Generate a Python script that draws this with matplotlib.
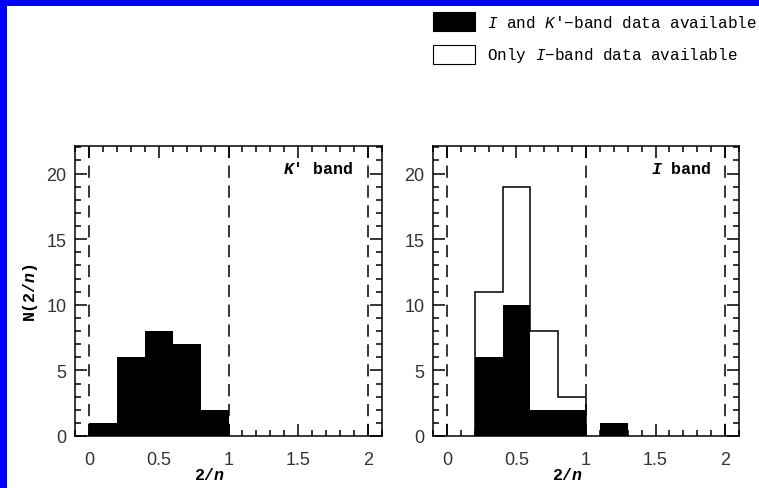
import matplotlib
matplotlib.use("Agg")
import matplotlib.pyplot as plt
from matplotlib.patches import Rectangle
from matplotlib.ticker import MultipleLocator, FuncFormatter

# Histogram data (bin width 0.2 in 2/n)
bin_width = 0.2
k_left = [0.0, 0.2, 0.4, 0.6, 0.8]
k_counts = [1, 6, 8, 7, 2]

i_both_left = [0.2, 0.4, 0.6, 0.8, 1.1]
i_both_counts = [6, 10, 2, 2, 1]

i_all_edges = [0.2, 0.4, 0.6, 0.8, 1.0]
i_all_counts = [11, 19, 8, 3]

ref_lines = [0, 1, 2]
xticks = [0, 0.5, 1, 1.5, 2]
yticks = [0, 5, 10, 15, 20]

# Mono slab-style font for labels; \mathsf is mapped to bold italic for bold labels
plt.rcParams["mathtext.fontset"] = "custom"
plt.rcParams["mathtext.rm"] = "Liberation Mono"
plt.rcParams["mathtext.it"] = "Liberation Mono:italic"
plt.rcParams["mathtext.bf"] = "Liberation Mono:bold"
plt.rcParams["mathtext.sf"] = "Liberation Mono:italic:bold"

W, H = 759, 489
fig = plt.figure(figsize=(W / 100, H / 100), dpi=100)
fig.patch.set_facecolor("#0000ff")
fig.patches.append(Rectangle((7 / W, 0), 1 - 7 / W, 482 / H, transform=fig.transFigure,
                             facecolor="white", edgecolor="none", zorder=-10))

mono = "Liberation Mono"
sans = "Liberation Sans"
lw = 1.1


def style_axes(ax):
    ax.set_xlim(-0.1, 2.1)
    ax.set_ylim(0, 22.1)
    ax.xaxis.set_major_locator(MultipleLocator(0.5))
    ax.xaxis.set_minor_locator(MultipleLocator(0.1))
    ax.yaxis.set_major_locator(MultipleLocator(5))
    ax.yaxis.set_minor_locator(MultipleLocator(1))
    ax.xaxis.set_major_formatter(FuncFormatter(lambda v, p: f"{v:g}"))
    ax.tick_params(which="both", direction="in", top=True, right=True, width=lw, color="black")
    ax.tick_params(which="major", length=8.6)
    ax.tick_params(which="minor", length=4.3)
    ax.tick_params(axis="x", which="major", pad=11, labelsize=13, labelcolor="#333333")
    ax.tick_params(axis="y", which="major", pad=6, labelsize=13, labelcolor="#333333")
    for s in ax.spines.values():
        s.set_linewidth(lw)
    for x in ref_lines:
        ax.axvline(x, color="black", lw=lw, ls=(0, (8, 5)), zorder=1)
    ax.set_xlabel(r"2/$\mathsf{n}$", fontfamily=mono, fontweight="bold", fontsize=12)
    ax.xaxis.set_label_coords(0.44, -0.105)


ax1 = fig.add_axes([75 / W, 52 / H, 307 / W, 290 / H])
ax2 = fig.add_axes([433 / W, 52 / H, 306 / W, 290 / H])

for ax in (ax1, ax2):
    ax.set_facecolor("white")
    style_axes(ax)
    ax.set_xticks(xticks)
    ax.set_yticks(yticks)
    for lab in ax.get_xticklabels() + ax.get_yticklabels():
        lab.set_fontfamily(sans)

# K' band panel
ax1.bar(k_left, k_counts, width=bin_width, align="edge", color="black", zorder=2)
ax1.set_ylabel(r"N(2/$\mathsf{n}$)", fontfamily=mono, fontweight="bold", fontsize=12,
               labelpad=5)
ax1.text(1.9, 20.4, r"$\mathsf{K}$' band", ha="right", va="center", fontfamily=mono,
         fontweight="bold", fontsize=12)

# I band panel
ax2.stairs(i_all_counts, i_all_edges, color="black", lw=lw, zorder=3)
ax2.bar(i_both_left, i_both_counts, width=bin_width, align="edge", color="black", zorder=2)
ax2.text(1.9, 20.4, r"$\mathsf{I}$ band", ha="right", va="center", fontfamily=mono,
         fontweight="bold", fontsize=12)

# Legend drawn in figure coordinates
fig.patches.append(Rectangle((433 / W, 457 / H), 42 / W, 19 / H, transform=fig.transFigure,
                             facecolor="black", edgecolor="black", lw=0.8))
fig.patches.append(Rectangle((433 / W, 424 / H), 42 / W, 19 / H, transform=fig.transFigure,
                             facecolor="white", edgecolor="black", lw=0.8))
fig.text(487 / W, (H - 22.5) / H, "$I$ and $K$'\u2212band data available",
         fontfamily=mono, fontsize=11.5, va="center", ha="left")
fig.text(487 / W, (H - 55.5) / H, "Only $I$\u2212band data available",
         fontfamily=mono, fontsize=11.5, va="center", ha="left")

fig.savefig("out.png", dpi=100, facecolor=fig.get_facecolor())
